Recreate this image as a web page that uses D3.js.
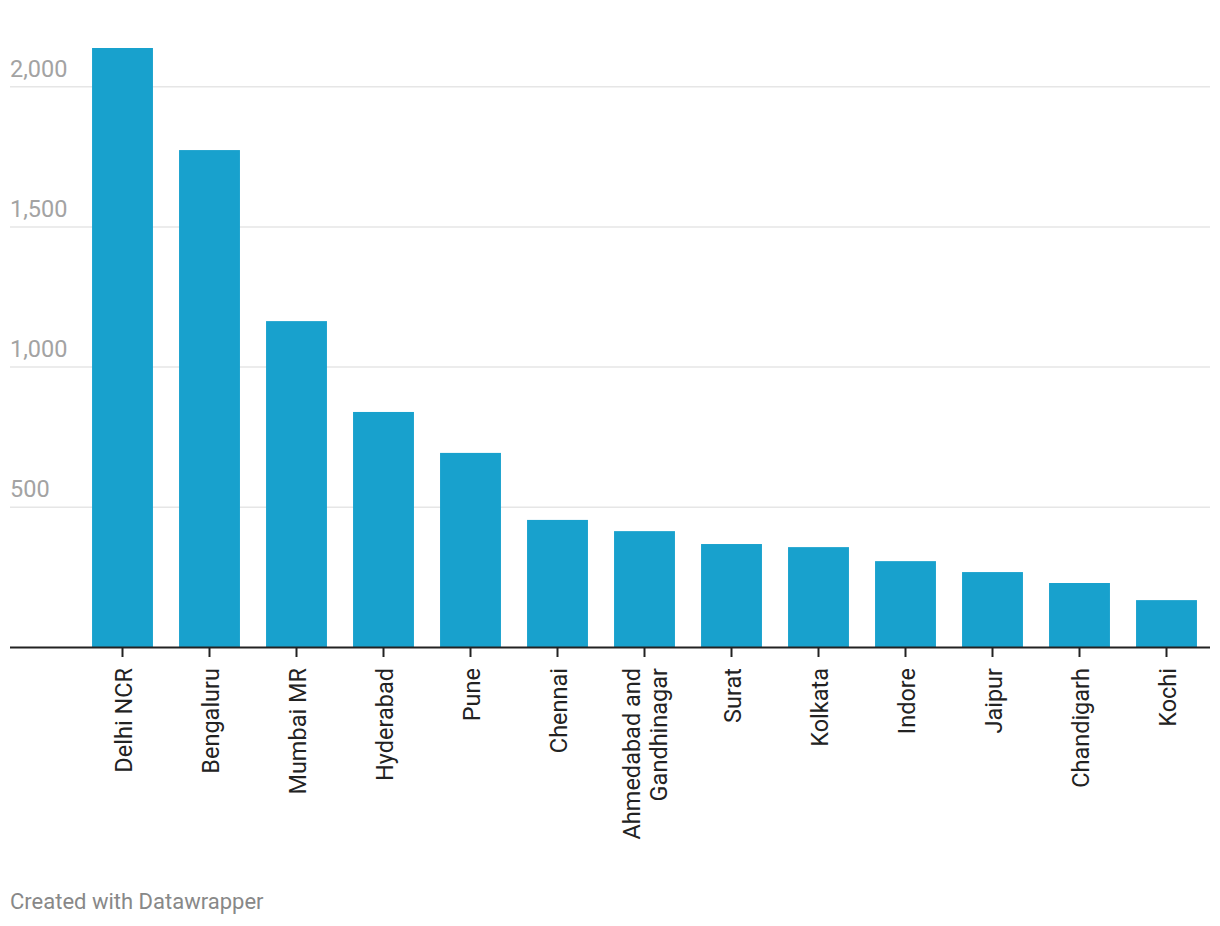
<!DOCTYPE html>
<html>
<head>
<meta charset="utf-8">
<script src="https://cdn.jsdelivr.net/npm/d3@7"></script>
<style>
  body { margin: 0; background: #fff; }
  svg { display: block; font-family: Roboto, "Noto Sans", sans-serif; }
</style>
</head>
<body>
<script>
// city names, "\n" marks a wrapped label
var cities = ["Delhi NCR", "Bengaluru", "Mumbai MR", "Hyderabad", "Pune", "Chennai",
  "Ahmedabad and\nGandhinagar", "Surat", "Kolkata", "Indore", "Jaipur", "Chandigarh", "Kochi"];
var values = [2138, 1774, 1164, 840, 694, 455, 415, 369, 358, 308, 269, 230, 169];
var yTicks = [500, 1000, 1500, 2000];
var footer = "Created with Datawrapper";

var width = 1220;
var height = 926;

var svg = d3.select("body")
  .append("svg")
  .attr("width", width)
  .attr("height", height);

var x = d3.scaleBand()
  .domain(cities)
  .range([79, 1210])
  .paddingInner(0.3)
  .paddingOuter(0.15);

var y = d3.scaleLinear()
  .domain([0, 2000])
  .range([647.5, 86.7]);

// gridlines + labels
var grid = svg.append("g")
  .selectAll("g")
  .data(yTicks)
  .enter()
  .append("g");

grid.append("line")
  .attr("x1", 10)
  .attr("x2", 1210)
  .attr("y1", function(d) { return y(d); })
  .attr("y2", function(d) { return y(d); })
  .attr("stroke", "#e6e6e6")
  .attr("stroke-width", 1.5);

grid.append("text")
  .attr("x", 10)
  .attr("y", function(d) { return y(d) - 10; })
  .attr("fill", "#a3a3a3")
  .style("font-size", "23.5px")
  .text(function(d) { return d3.format(",")(d); });

// bars
svg.append("g")
  .selectAll("rect")
  .data(values)
  .enter()
  .append("rect")
  .attr("x", function(d, i) { return x(cities[i]); })
  .attr("y", function(d) { return y(d); })
  .attr("width", x.bandwidth())
  .attr("height", function(d) { return y(0) - y(d); })
  .attr("fill", "#18a1cd");

// baseline
svg.append("line")
  .attr("x1", 10)
  .attr("x2", 1210)
  .attr("y1", y(0))
  .attr("y2", y(0))
  .attr("stroke", "#222")
  .attr("stroke-width", 2);

// x ticks and rotated labels
var xt = svg.append("g")
  .selectAll("g")
  .data(cities)
  .enter()
  .append("g")
  .attr("transform", function(d) {
    return "translate(" + (x(d) + x.bandwidth() / 2) + ",0)";
  });

xt.append("line")
  .attr("y1", y(0))
  .attr("y2", 657)
  .attr("stroke", "#222")
  .attr("stroke-width", 2);

var lineHeight = 27;
xt.append("text")
  .attr("transform", "translate(0,668) rotate(-90)")
  .attr("text-anchor", "end")
  .attr("fill", "#222")
  .style("font-size", "23.5px")
  .each(function(d) {
    var lines = d.split("\n");
    var t = d3.select(this);
    lines.forEach(function(l, i) {
      t.append("tspan")
        .attr("x", 0)
        .attr("y", 9 + (i - (lines.length - 1) / 2) * lineHeight)
        .text(l);
    });
  });

svg.append("text")
  .attr("x", 10)
  .attr("y", 909)
  .attr("fill", "#888")
  .style("font-size", "22px")
  .text(footer);
</script>
</body>
</html>
